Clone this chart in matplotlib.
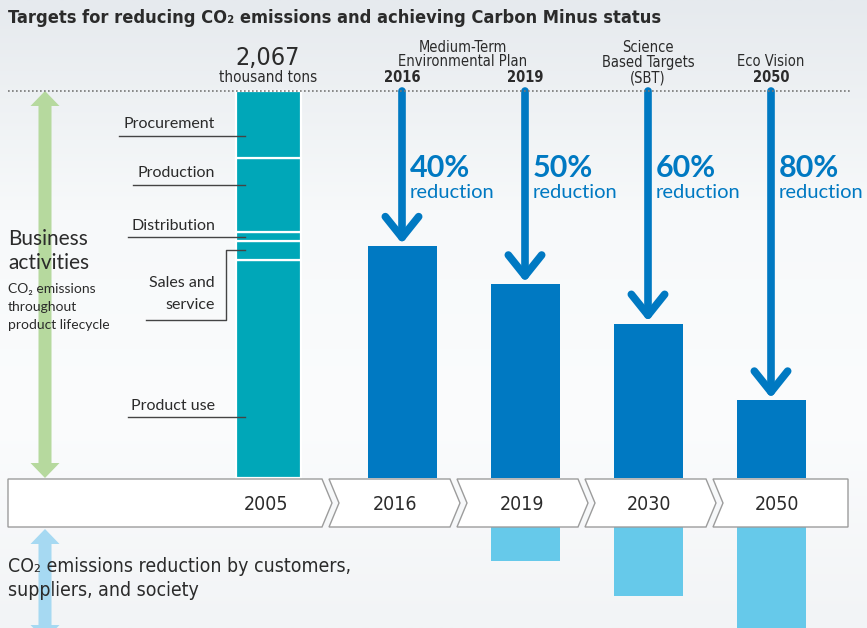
import numpy as np
import matplotlib

matplotlib.use("Agg")
import matplotlib.pyplot as plt
from matplotlib.patches import Polygon
from matplotlib.colors import LinearSegmentedColormap

# CO2 emissions, thousand tons
base_year = "2005"
base_total = 2067
stage_names = ["Product use", "Sales and\nservice", "Distribution", "Production", "Procurement"]
stage_values = [1165, 101, 48, 396, 357]
target_years = ["2016", "2019", "2030", "2050"]
target_values = [1240, 1035, 825, 415]
reduction_labels = ["40%", "50%", "60%", "80%"]
society_values = [0, 182, 369, 620]
timeline_labels = ["2005", "2016", "2019", "2030", "2050"]

TEAL = "#00a7b8"
DARK = "#0079c2"
LIGHT = "#66c9ea"
GREEN = "#b6d99e"
SKY = "#a6d9f2"
TXT = "#2b2b2b"

COND = ["Liberation Sans Narrow", "DejaVu Sans"]
BODY = ["Lato", "DejaVu Sans"]

W, H = 867, 628
PX_PER_KT = 387 / base_total       # dotted line (2,067) to baseline
BASE_PX = 478                       # baseline of the bars, in pixels from top
BAND_DEPTH = (527 - BASE_PX) / PX_PER_KT

fig = plt.figure(figsize=(W / 100, H / 100), dpi=100)
renderer = fig.canvas.get_renderer()

# background
bg = fig.add_axes([0, 0, 1, 1])
grad = np.linspace(0, 1, 256).reshape(-1, 1)
cmap = LinearSegmentedColormap.from_list("bg", ["#e6eaee", "#f7f9fa", "#fbfcfd", "#f2f4f6"])
bg.imshow(grad, aspect="auto", cmap=cmap, extent=[0, 1, 0, 1], origin="upper")
bg.axis("off")

# data axes: x in pixel layout units, y in thousand tons
ax = fig.add_axes([0, 0, 1, 1])
ax.set_xlim(0, W)
ax.set_ylim(-(H - BASE_PX) / PX_PER_KT, BASE_PX / PX_PER_KT)
ax.axis("off")
ax.patch.set_alpha(0)

# overlay axes in pixel coords for decorations and text
ov = fig.add_axes([0, 0, 1, 1])
ov.set_xlim(0, W)
ov.set_ylim(H, 0)
ov.axis("off")
ov.patch.set_alpha(0)


def ctext(x, y, s, size, width=None, **kw):
    # condensed-style text; optionally shrink to the reference width
    t = ov.text(x, y, s, fontsize=size, family=COND, fontstretch="condensed",
                color=TXT, va="center", **kw)
    if width:
        w = t.get_window_extent(renderer).width
        if w > width:
            t.set_fontsize(size * width / w)
    return t


x_base = 268
x_targets = 402 + 123 * np.arange(len(target_years))

# stacked base-year bar
bottom = 0
for name, val in zip(stage_names, stage_values):
    ax.bar(x_base, val, bottom=bottom, width=65, color=TEAL, edgecolor="white", linewidth=1.6, zorder=2)
    bottom += val

ax.bar(x_targets, target_values, width=69, color=DARK, zorder=2)
soc = np.array(society_values)
ax.bar(x_targets[soc > 0], -soc[soc > 0], bottom=-BAND_DEPTH, width=69, color=LIGHT, zorder=1)

# reduction arrows from the 2005 level down to each target
for x, v, lab in zip(x_targets, target_values, reduction_labels):
    ax.annotate("", xy=(x, v + 12), xytext=(x, base_total),
                arrowprops=dict(arrowstyle="->,head_length=0.75,head_width=0.6", lw=5.5,
                                color=DARK, mutation_scale=20, shrinkA=0, shrinkB=0),
                zorder=3)
    ov.text(x + 8, 168, lab, fontsize=22, fontweight="bold", color=DARK, family=BODY,
            ha="left", va="center")
    ov.text(x + 8, 192, "reduction", fontsize=14.5, color=DARK, family=BODY,
            ha="left", va="center")

# dotted reference line
ov.plot([8, 850], [91, 91], color="#777777", lw=1.2, linestyle=(0, (1, 1.4)), zorder=4)


def double_arrow(x, y0, y1, color, shaft=13, head_w=29, head_l=15):
    pts = [(x, y0), (x + head_w / 2, y0 + head_l), (x + shaft / 2, y0 + head_l),
           (x + shaft / 2, y1 - head_l), (x + head_w / 2, y1 - head_l), (x, y1),
           (x - head_w / 2, y1 - head_l), (x - shaft / 2, y1 - head_l),
           (x - shaft / 2, y0 + head_l), (x - head_w / 2, y0 + head_l)]
    ov.add_patch(Polygon(pts, closed=True, color=color, lw=0, zorder=1))


double_arrow(45, 91, 478, GREEN)
double_arrow(45, 529, 640, SKY)

# timeline band of chevrons
bounds = [(8, 322), (329, 450), (457, 578), (585, 706), (713, 848)]
tip = 10
top, bot = 479, 527
mid = (top + bot) / 2
for i, (l, r) in enumerate(bounds):
    pts = [(l, top), (r, top)]
    if i < len(bounds) - 1:
        pts.append((r + tip, mid))
    pts += [(r, bot), (l, bot)]
    if i > 0:
        pts.append((l + tip, mid))
    ov.add_patch(Polygon(pts, closed=True, facecolor="white", edgecolor="#9c9c9c", lw=1, zorder=3))
cx = [x_base - 2] + list(x_targets - 7 + np.array([0, 4, 8, 13]))
for x, lab in zip(cx, timeline_labels):
    ctext(x, mid + 1, lab, 14, ha="center", zorder=4)

# stage labels with leader lines
stage_label_y = [406, 283, 226, 173, 124]
leader_y = [417, 320, 237, 185, 136]
leader_x0 = [128, 146, 128, 133, 119]
for name, ly, yy, x0 in zip(stage_names, stage_label_y, leader_y, leader_x0):
    if "\n" in name:
        l1, l2 = name.split("\n")
        ov.text(215, ly, l1, fontsize=11.5, color=TXT, family=BODY, ha="right", va="center")
        ov.text(215, ly + 22, l2, fontsize=11.5, color=TXT, family=BODY, ha="right", va="center")
        ov.plot([x0, 226, 226, 245], [yy, yy, 250, 250], color="#444444", lw=1, zorder=3)
    else:
        ov.text(215, ly, name, fontsize=11.5, color=TXT, family=BODY, ha="right", va="center")
        ov.plot([x0, 245], [yy, yy], color="#444444", lw=1, zorder=3)

# left captions
ov.text(8, 239, "Business", fontsize=15, color=TXT, family=BODY, va="center")
ov.text(8, 263, "activities", fontsize=15, color=TXT, family=BODY, va="center")
for i, line in enumerate(["CO₂ emissions", "throughout", "product lifecycle"]):
    ov.text(8, 289 + 18 * i, line, fontsize=10, color=TXT, family=BODY, va="center")
cap = ctext(8, 566, "CO₂ emissions reduction by customers,", 16, width=344)
ctext(8, 590, "suppliers, and society", cap.get_fontsize())

# headers above the bars
ctext(x_base, 58, f"{base_total:,}", 18, ha="center")
ctext(x_base, 77, "thousand tons", 11, ha="center")
ctext(463, 47, "Medium-Term", 10.5, ha="center")
ctext(463, 62, "Environmental Plan", 10.5, ha="center")
ctext(648, 47, "Science", 10.5, ha="center")
ctext(648, 62, "Based Targets", 10.5, ha="center")
ctext(648, 78, "(SBT)", 10.5, ha="center")
ctext(771, 62, "Eco Vision", 10.5, ha="center")
for x, yr in zip([x_targets[0], x_targets[1], x_targets[3]], ["2016", "2019", "2050"]):
    ctext(x, 78, yr, 10.5, fontweight="bold", ha="center")

ctext(8, 18, "Targets for reducing CO₂ emissions and achieving Carbon Minus status", 17,
      width=649, fontweight="bold")

fig.savefig("out.png", dpi=100)
